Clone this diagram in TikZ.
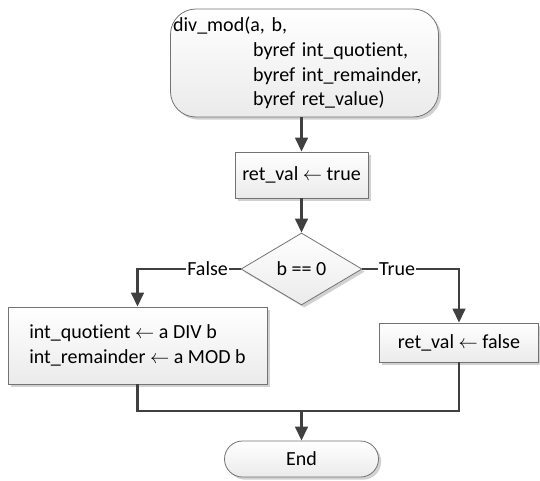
\documentclass[tikz,border=0pt]{standalone}
\usepackage{fontspec}
\setmainfont[Ligatures=NoCommon]{Carlito}
\usetikzlibrary{shapes.geometric,arrows.meta,shadows}

\begin{document}
\begin{tikzpicture}[
    x=0.75pt, y=-0.75pt,
    box/.style={rectangle, draw=black!55, line width=0.6pt,
      top color=white, bottom color=black!8,
      drop shadow={shadow xshift=2pt, shadow yshift=-2pt, fill=black!18, opacity=1},
      font=\fontsize{15}{18.5}\selectfont, inner sep=0pt},
    terminal/.style={box, rounded corners=#1},
    terminal/.default=13.5pt,
    decision/.style={box, diamond, aspect=1.68},
    flow/.style={draw=black!75, line width=1.8pt, -{Triangle[length=10.5pt,width=9.5pt]}},
    line/.style={draw=black!75, line width=1.8pt},
    tag/.style={fill=white, inner sep=1pt, font=\fontsize{15}{18}\selectfont}
  ]
  \useasboundingbox (0,0) rectangle (540,480);
  \node[terminal=19pt, minimum width=201pt, minimum height=81pt, align=left,
        text width=197pt, inner xsep=2pt] (start) at (304.5,63)
    {div\_mod(a, b,\\\hspace*{60pt}byref int\_quotient,\\\hspace*{60pt}byref int\_remainder,\\\hspace*{60pt}byref ret\_value)};
  \node[box, minimum width=99.75pt, minimum height=34.5pt] (rettrue) at (301.5,175) {ret\_val $\leftarrow$ true};
  \node[decision, minimum width=90.75pt, minimum height=54pt] (test) at (301.5,269) {b == 0};
  \node[box, minimum width=194.25pt, minimum height=57.75pt, align=left] (divide) at (137.5,345.5)
    {int\_quotient $\leftarrow$ a DIV b\\int\_remainder $\leftarrow$ a MOD b};
  \node[box, minimum width=119.25pt, minimum height=29.25pt] (retfalse) at (459,342.5) {ret\_val $\leftarrow$ false};
  \node[terminal, minimum width=115.5pt, minimum height=27pt] (stop) at (301.5,459) {End};
  \coordinate (join) at (301.5,411);

  \draw[flow] (start.south -| rettrue.north) -- (rettrue.north);
  \draw[flow] (rettrue.south) -- (test.north);
  \draw[flow] (test.west) -| node[tag, pos=0.16] {False} (divide.north);
  \draw[flow] (test.east) -| node[tag, pos=0.18] {True} (retfalse.north);
  \draw[line] (divide.south) |- (join) -| (retfalse.south);
  \draw[flow] (join) -- (stop.north);
\end{tikzpicture}
\end{document}
